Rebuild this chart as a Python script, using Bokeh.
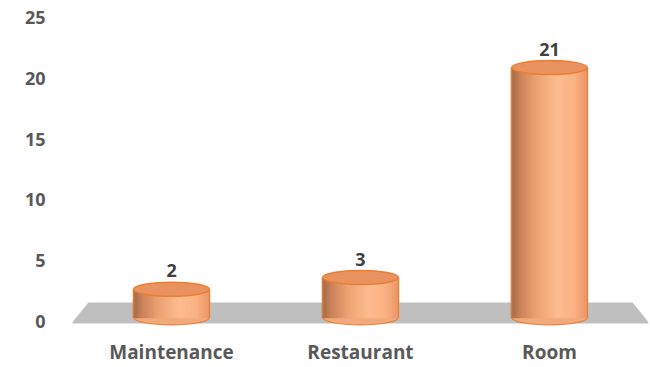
from bokeh.plotting import figure
from bokeh.models import Range1d, LinearAxis, FactorRange, PolyAnnotation, FixedTicker, ColumnDataSource
from bokeh.transform import dodge
from bokeh.core.properties import value
from bokeh.embed import file_html
from bokeh.resources import INLINE

# ---- data ----
categories = ["Maintenance", "Restaurant", "Room"]
counts = [2, 3, 21]
y_ticks = [0, 5, 10, 15, 20, 25]

# ---- styling ----
FONT = "Open Sans"
TXT_AXIS = "#595959"
TXT_LABEL = "#404040"
CYL_W = 0.40          # cylinder width in category units
CAP_H = 1.2           # ellipse height in value units
BASE = -0.45          # cylinder base (front perspective offset)
N_STRIPS = 30

stops = [(0.0, "#9C6848"), (0.12, "#C98258"), (0.35, "#EDA474"),
         (0.62, "#FDBC8F"), (0.85, "#F9B183"), (1.0, "#EC9868")]

def hex2rgb(h):
    h = h.lstrip("#")
    return tuple(int(h[i:i + 2], 16) for i in (0, 2, 4))

def grad(t):
    for (t0, c0), (t1, c1) in zip(stops[:-1], stops[1:]):
        if t0 <= t <= t1:
            f = (t - t0) / (t1 - t0)
            a, b = hex2rgb(c0), hex2rgb(c1)
            return "#%02x%02x%02x" % tuple(int(round(a[i] + (b[i] - a[i]) * f)) for i in range(3))
    return stops[-1][1]

p = figure(width=650, height=367, output_backend="svg", toolbar_location=None,
           x_range=FactorRange(factors=categories, range_padding=0.016),
           y_range=Range1d(-1.54, 26.15), y_axis_location=None,
           min_border_left=72, min_border_right=2, min_border_top=7, min_border_bottom=33)
p.extra_y_ranges = {"axis": Range1d(-0.74, 25.82)}
p.background_fill_color = "white"
p.border_fill_color = "white"
p.outline_line_color = None
p.grid.visible = False

# y axis (back wall scale)
yax = LinearAxis(y_range_name="axis", ticker=FixedTicker(ticks=y_ticks))
yax.axis_line_color = None
yax.major_tick_line_color = None
yax.minor_tick_line_color = None
yax.major_tick_out = 0
yax.major_tick_in = 0
yax.minor_tick_out = 0
yax.major_label_standoff = 27
yax.major_label_text_font = FONT
yax.major_label_text_font_style = "bold"
yax.major_label_text_font_size = "18px"
yax.major_label_text_color = TXT_AXIS
p.add_layout(yax, "left")

xax = p.xaxis[0]
xax.axis_line_color = None
xax.major_tick_line_color = None
xax.minor_tick_line_color = None
xax.major_tick_out = 0
xax.major_tick_in = 0
xax.minor_tick_out = 0
xax.major_label_standoff = 8
xax.major_label_text_font = FONT
xax.major_label_text_font_style = "bold"
xax.major_label_text_font_size = "19px"
xax.major_label_text_color = TXT_AXIS

# floor
n = len(categories)
floor = PolyAnnotation(xs=[0.06, n - 0.06, n + 0.03, -0.03],
                       ys=[0.85, 0.85, -0.94, -0.94],
                       fill_color="#BFBFBF", fill_alpha=1.0, line_color=None,
                       level="underlay")
p.add_layout(floor)

src = ColumnDataSource(dict(cat=categories, val=counts,
                            base=[BASE] * len(categories),
                            lab=[str(v) for v in counts]))

# bottom ellipses
p.ellipse(x="cat", y="base", width=CYL_W, height=CAP_H, source=src,
          fill_color="#F3AA7B", line_color="#ED7D31", line_width=1.2)

# body as gradient strips
sw = CYL_W / N_STRIPS
for k in range(N_STRIPS):
    off = -CYL_W / 2 + (k + 0.5) * sw
    col = grad((k + 0.5) / N_STRIPS)
    p.vbar(x=dodge("cat", off, range=p.x_range), top="val", bottom="base",
           width=sw * 1.5, source=src, fill_color=col,
           line_color=col, line_width=0.6)

# side edges
for off in (-CYL_W / 2, CYL_W / 2):
    p.segment(x0=dodge("cat", off, range=p.x_range), y0="base",
              x1=dodge("cat", off, range=p.x_range), y1="val",
              source=src, line_color="#ED7D31", line_width=1.2)

# top ellipses
p.ellipse(x="cat", y="val", width=CYL_W, height=CAP_H, source=src,
          fill_color="#E8935F", line_color="#ED7D31", line_width=1.5)

# value labels
p.text(x="cat", y="val", text="lab", source=src, text_align="center",
       text_baseline="bottom", y_offset=-12, text_font=value(FONT),
       text_font_style="bold", text_font_size="18px", text_color=TXT_LABEL)

open("out.html", "w").write(file_html(p, INLINE))
